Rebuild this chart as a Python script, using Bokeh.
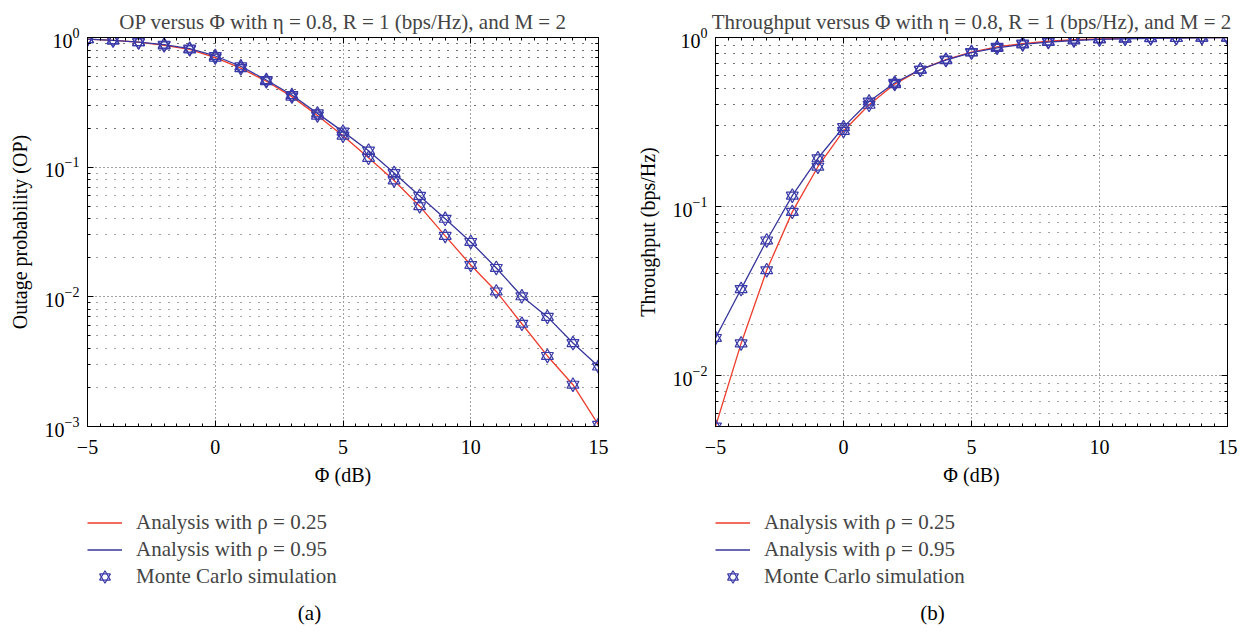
from bokeh.plotting import figure
from bokeh.models import (FixedTicker, LogTickFormatter, LinearAxis, LogAxis, Legend,
                          LegendItem, Range1d, CustomJSTickFormatter, Label)
from bokeh.layouts import row, column
from bokeh.embed import file_html
from bokeh.resources import INLINE

# ---------------- data ----------------
phi_db = [-5, -4, -3, -2, -1, 0, 1, 2, 3, 4, 5, 6, 7, 8, 9, 10, 11, 12, 13, 14, 15]

op_rho025 = [0.97, 0.95, 0.92, 0.87, 0.81, 0.70, 0.58, 0.46, 0.35, 0.25, 0.175,
             0.118, 0.079, 0.050, 0.0295, 0.0176, 0.0110, 0.0062, 0.0035, 0.0021, 0.00103]
op_rho095 = [0.97, 0.95, 0.92, 0.88, 0.82, 0.72, 0.60, 0.47, 0.36, 0.26, 0.188,
             0.134, 0.090, 0.060, 0.040, 0.0265, 0.0167, 0.0101, 0.0070, 0.0044, 0.0029]

thr_rho025 = [0.0050, 0.0155, 0.042, 0.093, 0.172, 0.28, 0.40, 0.53, 0.645, 0.74, 0.82,
              0.88, 0.92, 0.95, 0.97, 0.982, 0.989, 0.994, 0.996, 0.998, 0.999]
thr_rho095 = [0.0167, 0.0325, 0.063, 0.116, 0.193, 0.295, 0.418, 0.54, 0.645, 0.735, 0.815,
              0.868, 0.91, 0.94, 0.96, 0.974, 0.983, 0.99, 0.993, 0.996, 0.997]

x_ticks = [-5, 0, 5, 10, 15]
x_tick_labels = {-5: "\u22125"}

op_decades = [1e-3, 1e-2, 1e-1, 1.0]
thr_decades = [1e-2, 1e-1, 1.0]

label_a = "Analysis with \u03c1 = 0.25"
label_b = "Analysis with \u03c1 = 0.95"
label_mc = "Monte Carlo simulation"

title_a = "OP versus \u03a6 with \u03b7 = 0.8, R = 1 (bps/Hz), and M = 2"
title_b = "Throughput versus \u03a6 with \u03b7 = 0.8, R = 1 (bps/Hz), and M = 2"

# ---------------- style ----------------
FONT = "Liberation Serif"
FS_TICK = "20px"
FS_AXIS = "20px"
FS_TITLE = "21px"
FS_LEG = "21px"
RED = "#ee3b2a"
BLUE = "#36369c"
MARK = "#3a3aa8"
GRID = "#444444"
FRAME_H = 389
TOP_H = 37
BOTTOM_H = 70
LEG_H = 633 - TOP_H - FRAME_H - BOTTOM_H


def minors_for(decades, lo):
    out = []
    for d in decades:
        for m in range(2, 10):
            v = d * m / 10.0
            if v >= lo * 0.999 and v < 1.0:
                out.append(v)
    return out


def add_series(fig, s1, s2, visible=True):
    r1 = fig.line(phi_db, s1, line_color=RED, line_width=1.3, visible=visible)
    r2 = fig.line(phi_db, s2, line_color=BLUE, line_width=1.3, visible=visible)
    marks = []
    for s in (s1, s2):
        for mk in ("triangle", "inverted_triangle"):
            marks.append(fig.scatter(phi_db, s, marker=mk, size=12, fill_color=None,
                                     line_color=MARK, line_width=1.2, visible=visible))
    return r1, r2, marks


def make_panel(title, ylabel, s1, s2, ylo, yhi, decades,
               border_left, border_right, frame_w):
    p = figure(frame_width=frame_w, frame_height=FRAME_H, y_axis_type="log",
               x_range=Range1d(-5, 15), y_range=Range1d(ylo, yhi),
               output_backend="svg", toolbar_location=None,
               min_border_left=border_left, min_border_right=border_right,
               min_border_top=TOP_H, min_border_bottom=BOTTOM_H,
               background_fill_color="white", border_fill_color="white")
    p.outline_line_color = "black"
    p.outline_line_width = 1

    xt = FixedTicker(ticks=x_ticks, minor_ticks=[v / 2 for v in range(-10, 31)])
    yt = FixedTicker(ticks=decades, minor_ticks=minors_for(decades + [1.0], ylo))

    p.xaxis.ticker = xt
    p.yaxis.ticker = yt
    p.yaxis.formatter = LogTickFormatter()
    p.xaxis.major_label_overrides = x_tick_labels

    for ax in (p.xaxis[0], p.yaxis[0]):
        ax.major_tick_in = 6
        ax.major_tick_out = 0
        ax.minor_tick_in = 3
        ax.minor_tick_out = 0
        ax.axis_line_color = "black"
        ax.major_tick_line_color = "black"
        ax.minor_tick_line_color = "black"
        ax.major_label_text_font = FONT
        ax.major_label_text_font_size = FS_TICK
        ax.major_label_text_color = "black"
        ax.axis_label_text_font = FONT
        ax.axis_label_text_font_size = FS_AXIS
        ax.axis_label_text_font_style = "normal"
        ax.axis_label_text_color = "black"
    p.xaxis.axis_label = "\u03a6 (dB)"
    p.yaxis.axis_label = ylabel
    p.xaxis.major_label_standoff = 13
    p.yaxis.major_label_standoff = 8
    p.xaxis.axis_label_standoff = 7
    p.yaxis.axis_label_standoff = 11

    empty = CustomJSTickFormatter(code="return ''")
    top = LinearAxis(ticker=xt, formatter=empty, major_tick_in=6, major_tick_out=0,
                     minor_tick_in=3, minor_tick_out=0, major_label_standoff=0,
                     axis_line_color="black")
    right = LogAxis(ticker=yt, formatter=empty, major_tick_in=6, major_tick_out=0,
                    minor_tick_in=3, minor_tick_out=0, major_label_standoff=0,
                    axis_line_color="black")
    p.add_layout(top, "above")
    p.add_layout(right, "right")

    # grids
    p.xgrid.ticker = FixedTicker(ticks=[0, 5, 10])
    p.xgrid.grid_line_color = GRID
    p.xgrid.grid_line_dash = "1 3"
    p.xgrid.grid_line_width = 1
    p.ygrid.ticker = yt
    p.ygrid.grid_line_color = GRID
    p.ygrid.grid_line_dash = "1 3"
    p.ygrid.minor_grid_line_color = GRID
    p.ygrid.minor_grid_line_dash = "1 8"

    add_series(p, s1, s2)

    p.title.text = title
    p.title.text_font = FONT
    p.title.text_font_size = FS_TITLE
    p.title.text_font_style = "normal"
    p.title.align = "center"
    p.title.standoff = 8
    return p


def make_legend_fig(s1, s2, caption, width, leg_x, cap_x):
    lf = figure(width=width, height=LEG_H, x_axis_location=None, y_axis_location=None,
                toolbar_location=None, output_backend="svg", min_border=0,
                x_range=Range1d(-5, 15), y_range=Range1d(0, 1))
    lf.outline_line_color = None
    lf.grid.visible = False
    r1, r2, marks = add_series(lf, s1, s2, visible=False)
    legend = Legend(items=[LegendItem(label=label_a, renderers=[r1]),
                           LegendItem(label=label_b, renderers=[r2]),
                           LegendItem(label=label_mc, renderers=[marks[0], marks[1]])],
                    location=(leg_x, LEG_H - 94), orientation="vertical",
                    label_text_font=FONT, label_text_font_size=FS_LEG,
                    glyph_width=35, glyph_height=27, label_height=27,
                    label_standoff=14, spacing=0, padding=0, margin=0,
                    border_line_color=None, background_fill_alpha=0,
                    inactive_fill_alpha=0)
    lf.add_layout(legend, "center")
    cap = Label(x=cap_x, y=LEG_H - 116, x_units="screen", y_units="screen", text=caption,
                text_font=FONT, text_font_size=FS_LEG, text_align="center",
                text_baseline="middle", text_color="black")
    lf.add_layout(cap)
    return lf


p1 = make_panel(title_a, "Outage probability (OP)", op_rho025, op_rho095,
                1e-3, 1.0, op_decades, 87, 25, 511)
p2 = make_panel(title_b, "Throughput (bps/Hz)", thr_rho025, thr_rho095,
                0.005, 1.0, thr_decades, 92, 20, 512)
# the legend figures' frames are aligned with the plot frames by the column layout
l1 = make_legend_fig(op_rho025, op_rho095, "(a)", 623, 0, 222)
l2 = make_legend_fig(thr_rho025, thr_rho095, "(b)", 624, 0, 217)

layout = row(column(p1, l1), column(p2, l2))
open("out.html", "w").write(file_html(layout, INLINE))
